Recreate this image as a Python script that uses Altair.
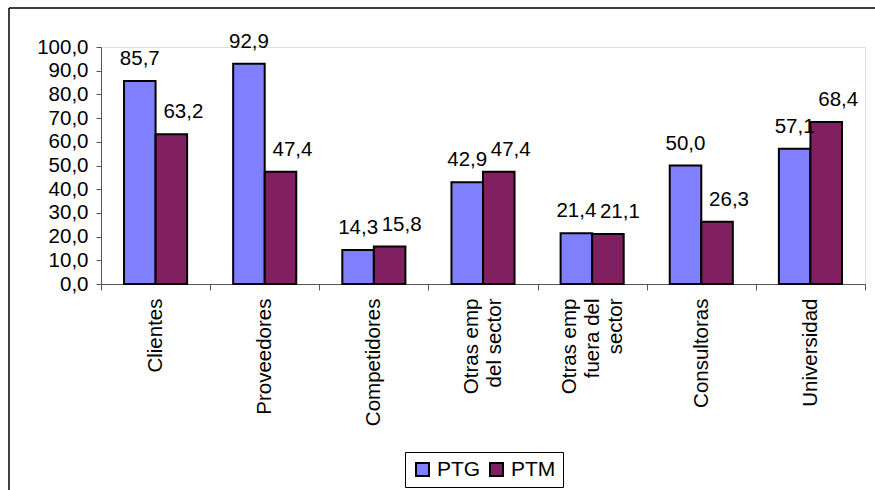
import altair as alt
import pandas as pd

categories = ["Clientes", "Proveedores", "Competidores", "Otras emp|del sector",
              "Otras emp|fuera del|sector", "Consultoras", "Universidad"]
series = ["PTG", "PTM"]
ptg = [85.7, 92.9, 14.3, 42.9, 21.4, 50.0, 57.1]
ptm = [63.2, 47.4, 15.8, 47.4, 21.1, 26.3, 68.4]
colors = ["#8080FF", "#802060"]
y_ticks = [0, 10, 20, 30, 40, 50, 60, 70, 80, 90, 100]

rows = []
for c, a, b in zip(categories, ptg, ptm):
    rows.append({"cat": c, "series": "PTG", "value": a})
    rows.append({"cat": c, "series": "PTM", "value": b})
df = pd.DataFrame(rows)

W, H = 764, 237
FONT = "Liberation Sans"
LH = 23

x_enc = alt.X("cat:N", sort=categories,
              scale=alt.Scale(paddingInner=0, paddingOuter=0),
              axis=alt.Axis(title=None, labelAngle=-90, labelAlign="right",
                            labelBaseline="middle", tickBand="extent", tickSize=6,
                            labelPadding=8, labelFontSize=20.5, labelColor="black",
                            labelLineHeight=LH, labelExpr="split(datum.label, '|')",
                            labelOffset={"condition": [
                                {"test": "length(split(datum.value, '|')) == 3", "value": -LH},
                                {"test": "length(split(datum.value, '|')) == 2", "value": -LH / 2}],
                                "value": 0},
                            domainColor="#555", tickColor="#555", labelFont=FONT))
xoff_enc = alt.XOffset("series:N", sort=series,
                       scale=alt.Scale(paddingInner=0, paddingOuter=0.73))
y_enc = alt.Y("value:Q", scale=alt.Scale(domain=[0, 100], nice=False),
              axis=alt.Axis(title=None, values=y_ticks, grid=False, tickSize=5,
                            labelPadding=8, labelFontSize=20.5, labelColor="black",
                            labelExpr="replace(format(datum.value, '.1f'), '.', ',')",
                            domainColor="#555", tickColor="#555", labelFont=FONT))

base = alt.Chart(df)

bars = base.mark_bar(stroke="black", strokeWidth=2).encode(
    x=x_enc, xOffset=xoff_enc, y=y_enc,
    color=alt.Color("series:N", sort=series,
                    scale=alt.Scale(domain=series, range=colors),
                    legend=alt.Legend(title=None, orient="none", legendX=304, legendY=405,
                                      direction="horizontal", strokeColor="black",
                                      fillColor="white", padding=7, symbolType="square",
                                      symbolSize=169, symbolStrokeColor="black",
                                      symbolStrokeWidth=2, labelFontSize=21,
                                      labelColor="black", labelFont=FONT,
                                      columnPadding=5, labelOffset=4))
)

def text_layer(name, dx):
    return base.transform_filter(alt.datum.series == name).transform_calculate(
        lbl="replace(format(datum.value, '.1f'), '.', ',')"
    ).mark_text(fontSize=20.5, font=FONT, color="black", baseline="alphabetic",
                dy=-16, dx=dx).encode(x=x_enc, xOffset=xoff_enc, y=y_enc, text="lbl:N")

frame_data = alt.Data(values=[{}])
frame_top = alt.Chart(frame_data).mark_rule(stroke="black", strokeWidth=1.5).encode(
    x=alt.value(-92), x2=alt.value(W + 80), y=alt.value(-39))
frame_left = alt.Chart(frame_data).mark_rule(stroke="black", strokeWidth=1.5).encode(
    x=alt.value(-92), y=alt.value(-39), y2=alt.value(H + 260))

chart = alt.layer(frame_top, frame_left, bars, text_layer("PTG", 0),
                  text_layer("PTM", 12)).properties(
    width=W, height=H,
    autosize=alt.AutoSizeParams(type="none"),
    padding={"left": 101, "top": 47, "right": 10, "bottom": 206},
    background="white"
).configure_view(stroke=None).configure(font=FONT)

chart.save("out.html", embed_options={"renderer": "svg", "actions": False})
